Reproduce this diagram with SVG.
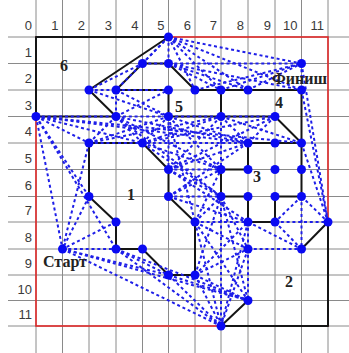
<svg xmlns="http://www.w3.org/2000/svg" width="349" height="353" viewBox="0 0 349 353">
<style>
.g{stroke:#8a8a8a;stroke-width:1;fill:none}
.red{stroke:#e02a2a;stroke-width:1.6;fill:none}
.o{stroke:#151515;stroke-width:2;fill:none;stroke-linejoin:round;stroke-linecap:round}
.e{stroke:#1e1ee8;stroke-width:2;stroke-dasharray:3 2.8;fill:none}
.n{fill:#0a0af2}
.ax{font-family:"Liberation Sans",Arial,sans-serif;font-size:13px;fill:#3a3a3a;text-anchor:end}
.lb{font-family:"Liberation Serif","Times New Roman",serif;font-weight:bold;font-size:16px;fill:#222}
</style>
<rect width="349" height="353" fill="#fff"/>
<g id="grid">
<path class="g" d="M36 0V353M62.5 0V353M89 0V353M116 0V353M142.5 0V353M168.5 0V353M195 0V353M221 0V353M248 0V353M275 0V353M301.5 0V353M328 0V353
M8 37H349M8 63.5H349M8 90H349M8 116.5H349M8 143H349M8 169.5H349M8 196.5H349M8 222H349M8 249H349M8 275H349M8 300.5H349M8 326H349"/>
<text class="ax" x="32" y="30">0</text><text class="ax" x="58.5" y="30">1</text><text class="ax" x="85" y="30">2</text><text class="ax" x="112" y="30">3</text><text class="ax" x="138.5" y="30">4</text><text class="ax" x="164.5" y="30">5</text><text class="ax" x="191" y="30">6</text><text class="ax" x="217" y="30">7</text><text class="ax" x="244" y="30">8</text><text class="ax" x="271" y="30">9</text><text class="ax" x="297.5" y="30">10</text><text class="ax" x="324" y="30">11</text>
<text class="ax" x="32" y="56.5">1</text><text class="ax" x="32" y="83">2</text><text class="ax" x="32" y="109.5">3</text><text class="ax" x="32" y="136">4</text><text class="ax" x="32" y="162.5">5</text><text class="ax" x="32" y="189.5">6</text><text class="ax" x="32" y="215">7</text><text class="ax" x="32" y="242">8</text><text class="ax" x="32" y="268">9</text><text class="ax" x="32" y="293.5">10</text><text class="ax" x="32" y="319">11</text>
</g>
<rect id="field" class="red" x="36" y="37" width="292" height="289"/>
<g id="obstacles">
<g id="p6"><path class="o" d="M36 116.5V37H168.5L89 90L116 116.5Z"/><text class="lb" x="60" y="71">6</text></g>
<g id="p5"><path class="o" d="M116 90L142.5 63.5H168.5L195 90H221V116.5H168.5V90Z"/><text class="lb" x="175" y="112">5</text></g>
<g id="p4"><path class="o" d="M221 90H301.5V143L275 116.5H221"/><text class="lb" x="275" y="108">4</text></g>
<g id="p3"><path class="o" d="M248 143H301.5V196.5H275V222H248V196.5H221V169.5H248Z"/><text class="lb" x="253" y="182">3</text></g>
<g id="p1"><path class="o" d="M89 143H142.5L168.5 169.5V196.5L195 222V275H168.5L142.5 249H116V222L89 196.5Z"/><text class="lb" x="127" y="200">1</text></g>
<g id="p2"><path class="o" d="M328 222L301.5 249M248 300.5L221 326H328V222"/><text class="lb" x="285" y="287">2</text></g>
</g>
<g id="connectors">
<line class="e" x1="168.5" y1="37" x2="142.5" y2="63.5"/>
<line class="e" x1="168.5" y1="37" x2="116" y2="90"/>
<line class="e" x1="89" y1="90" x2="142.5" y2="63.5"/>
<line class="e" x1="89" y1="90" x2="116" y2="90"/>
<line class="e" x1="168.5" y1="37" x2="168.5" y2="63.5"/>
<line class="e" x1="168.5" y1="37" x2="195" y2="90"/>
<line class="e" x1="168.5" y1="37" x2="221" y2="90"/>
<line class="e" x1="168.5" y1="37" x2="248" y2="90"/>
<line class="e" x1="168.5" y1="37" x2="301.5" y2="63.5"/>
<line class="e" x1="168.5" y1="37" x2="301.5" y2="90"/>
<line class="e" x1="168.5" y1="63.5" x2="301.5" y2="63.5"/>
<line class="e" x1="168.5" y1="63.5" x2="221" y2="90"/>
<line class="e" x1="168.5" y1="63.5" x2="248" y2="90"/>
<line class="e" x1="168.5" y1="63.5" x2="301.5" y2="90"/>
<line class="e" x1="195" y1="90" x2="301.5" y2="63.5"/>
<line class="e" x1="221" y1="90" x2="301.5" y2="63.5"/>
<line class="e" x1="248" y1="90" x2="301.5" y2="63.5"/>
<line class="e" x1="301.5" y1="63.5" x2="301.5" y2="90"/>
<line class="e" x1="142.5" y1="63.5" x2="168.5" y2="63.5"/>
<line class="e" x1="116" y1="90" x2="168.5" y2="90"/>
<line class="e" x1="116" y1="90" x2="116" y2="116.5"/>
<line class="e" x1="116" y1="90" x2="168.5" y2="116.5"/>
<line class="e" x1="116" y1="116.5" x2="168.5" y2="90"/>
<line class="e" x1="89" y1="90" x2="168.5" y2="116.5"/>
<line class="e" x1="36" y1="116.5" x2="275" y2="116.5"/>
<line class="e" x1="36" y1="116.5" x2="89" y2="143"/>
<line class="e" x1="36" y1="116.5" x2="142.5" y2="143"/>
<line class="e" x1="36" y1="116.5" x2="248" y2="143"/>
<line class="e" x1="36" y1="116.5" x2="301.5" y2="143"/>
<line class="e" x1="36" y1="116.5" x2="62.5" y2="249"/>
<line class="e" x1="36" y1="116.5" x2="89" y2="196.5"/>
<line class="e" x1="36" y1="116.5" x2="116" y2="249"/>
<line class="e" x1="89" y1="143" x2="62.5" y2="249"/>
<line class="e" x1="89" y1="196.5" x2="62.5" y2="249"/>
<line class="e" x1="116" y1="222" x2="62.5" y2="249"/>
<line class="e" x1="62.5" y1="249" x2="116" y2="249"/>
<line class="e" x1="116" y1="116.5" x2="89" y2="143"/>
<line class="e" x1="89" y1="143" x2="168.5" y2="116.5"/>
<line class="e" x1="89" y1="143" x2="221" y2="116.5"/>
<line class="e" x1="89" y1="143" x2="248" y2="143"/>
<line class="e" x1="116" y1="116.5" x2="142.5" y2="143"/>
<line class="e" x1="116" y1="116.5" x2="248" y2="143"/>
<line class="e" x1="116" y1="116.5" x2="221" y2="169.5"/>
<line class="e" x1="116" y1="116.5" x2="221" y2="196.5"/>
<line class="e" x1="142.5" y1="143" x2="168.5" y2="116.5"/>
<line class="e" x1="142.5" y1="143" x2="221" y2="116.5"/>
<line class="e" x1="142.5" y1="143" x2="275" y2="116.5"/>
<line class="e" x1="142.5" y1="143" x2="221" y2="169.5"/>
<line class="e" x1="142.5" y1="143" x2="221" y2="196.5"/>
<line class="e" x1="168.5" y1="116.5" x2="168.5" y2="169.5"/>
<line class="e" x1="168.5" y1="116.5" x2="248" y2="143"/>
<line class="e" x1="168.5" y1="116.5" x2="221" y2="169.5"/>
<line class="e" x1="168.5" y1="116.5" x2="195" y2="222"/>
<line class="e" x1="221" y1="116.5" x2="248" y2="143"/>
<line class="e" x1="221" y1="116.5" x2="221" y2="169.5"/>
<line class="e" x1="221" y1="116.5" x2="168.5" y2="169.5"/>
<line class="e" x1="221" y1="116.5" x2="301.5" y2="143"/>
<line class="e" x1="275" y1="116.5" x2="248" y2="143"/>
<line class="e" x1="168.5" y1="169.5" x2="248" y2="143"/>
<line class="e" x1="168.5" y1="169.5" x2="221" y2="169.5"/>
<line class="e" x1="168.5" y1="169.5" x2="221" y2="196.5"/>
<line class="e" x1="168.5" y1="169.5" x2="275" y2="116.5"/>
<line class="e" x1="168.5" y1="169.5" x2="248" y2="222"/>
<line class="e" x1="168.5" y1="196.5" x2="221" y2="169.5"/>
<line class="e" x1="168.5" y1="196.5" x2="221" y2="196.5"/>
<line class="e" x1="168.5" y1="196.5" x2="248" y2="222"/>
<line class="e" x1="168.5" y1="196.5" x2="248" y2="143"/>
<line class="e" x1="195" y1="222" x2="221" y2="196.5"/>
<line class="e" x1="195" y1="222" x2="248" y2="222"/>
<line class="e" x1="195" y1="222" x2="221" y2="169.5"/>
<line class="e" x1="195" y1="222" x2="248" y2="249"/>
<line class="e" x1="195" y1="222" x2="248" y2="300.5"/>
<line class="e" x1="195" y1="222" x2="221" y2="326"/>
<line class="e" x1="195" y1="275" x2="221" y2="326"/>
<line class="e" x1="195" y1="275" x2="248" y2="249"/>
<line class="e" x1="195" y1="275" x2="248" y2="300.5"/>
<line class="e" x1="195" y1="275" x2="221" y2="196.5"/>
<line class="e" x1="195" y1="275" x2="248" y2="222"/>
<line class="e" x1="221" y1="196.5" x2="221" y2="326"/>
<line class="e" x1="221" y1="196.5" x2="248" y2="249"/>
<line class="e" x1="221" y1="196.5" x2="248" y2="300.5"/>
<line class="e" x1="248" y1="222" x2="248" y2="249"/>
<line class="e" x1="248" y1="222" x2="221" y2="326"/>
<line class="e" x1="248" y1="249" x2="221" y2="326"/>
<line class="e" x1="248" y1="249" x2="301.5" y2="249"/>
<line class="e" x1="248" y1="249" x2="248" y2="300.5"/>
<line class="e" x1="62.5" y1="249" x2="168.5" y2="275"/>
<line class="e" x1="62.5" y1="249" x2="248" y2="300.5"/>
<line class="e" x1="62.5" y1="249" x2="221" y2="326"/>
<line class="e" x1="116" y1="249" x2="221" y2="326"/>
<line class="e" x1="116" y1="249" x2="248" y2="300.5"/>
<line class="e" x1="116" y1="249" x2="168.5" y2="275"/>
<line class="e" x1="168.5" y1="275" x2="221" y2="326"/>
<line class="e" x1="168.5" y1="275" x2="248" y2="300.5"/>
<line class="e" x1="301.5" y1="63.5" x2="328" y2="222"/>
<line class="e" x1="301.5" y1="90" x2="328" y2="222"/>
<line class="e" x1="301.5" y1="143" x2="328" y2="222"/>
<line class="e" x1="301.5" y1="196.5" x2="328" y2="222"/>
<line class="e" x1="275" y1="222" x2="328" y2="222"/>
<line class="e" x1="301.5" y1="196.5" x2="301.5" y2="249"/>
<line class="e" x1="275" y1="222" x2="301.5" y2="249"/>
<line class="e" x1="248" y1="222" x2="301.5" y2="249"/>
<line class="e" x1="301.5" y1="196.5" x2="275" y2="222"/>
</g>
<g id="nodes">
<circle class="n" cx="168.5" cy="37" r="4.5"/><circle class="n" cx="142.5" cy="63.5" r="4.5"/><circle class="n" cx="168.5" cy="63.5" r="4.5"/>
<circle class="n" cx="89" cy="90" r="4.5"/><circle class="n" cx="116" cy="90" r="4.5"/><circle class="n" cx="168.5" cy="90" r="4.5"/><circle class="n" cx="195" cy="90" r="4.5"/><circle class="n" cx="221" cy="90" r="4.5"/><circle class="n" cx="248" cy="90" r="4.5"/><circle class="n" cx="301.5" cy="90" r="4.5"/>
<circle class="n" cx="36" cy="116.5" r="4.5"/><circle class="n" cx="116" cy="116.5" r="4.5"/><circle class="n" cx="168.5" cy="116.5" r="4.5"/><circle class="n" cx="221" cy="116.5" r="4.5"/><circle class="n" cx="275" cy="116.5" r="4.5"/>
<circle class="n" cx="89" cy="143" r="4.5"/><circle class="n" cx="142.5" cy="143" r="4.5"/><circle class="n" cx="248" cy="143" r="4.5"/><circle class="n" cx="275" cy="143" r="4.5"/><circle class="n" cx="301.5" cy="143" r="4.5"/>
<circle class="n" cx="168.5" cy="169.5" r="4.5"/><circle class="n" cx="221" cy="169.5" r="4.5"/><circle class="n" cx="248" cy="169.5" r="4.5"/><circle class="n" cx="275" cy="169.5" r="4.5"/><circle class="n" cx="301.5" cy="169.5" r="4.5"/>
<circle class="n" cx="89" cy="196.5" r="4.5"/><circle class="n" cx="168.5" cy="196.5" r="4.5"/><circle class="n" cx="221" cy="196.5" r="4.5"/><circle class="n" cx="248" cy="196.5" r="4.5"/><circle class="n" cx="275" cy="196.5" r="4.5"/><circle class="n" cx="301.5" cy="196.5" r="4.5"/>
<circle class="n" cx="116" cy="222" r="4.5"/><circle class="n" cx="195" cy="222" r="4.5"/><circle class="n" cx="248" cy="222" r="4.5"/><circle class="n" cx="275" cy="222" r="4.5"/><circle class="n" cx="328" cy="222" r="4.5"/>
<circle class="n" cx="116" cy="249" r="4.5"/><circle class="n" cx="142.5" cy="249" r="4.5"/><circle class="n" cx="248" cy="249" r="4.5"/><circle class="n" cx="301.5" cy="249" r="4.5"/>
<circle class="n" cx="168.5" cy="275" r="4.5"/><circle class="n" cx="195" cy="275" r="4.5"/><circle class="n" cx="248" cy="300.5" r="4.5"/><circle class="n" cx="221" cy="326" r="4.5"/>
</g>
<g id="start"><circle class="n" cx="62.5" cy="249" r="4.5"/><text class="lb" x="43" y="267">Старт</text></g>
<g id="finish"><circle class="n" cx="301.5" cy="63.5" r="4.5"/><text class="lb" x="272" y="84">Финиш</text></g>
</svg>
